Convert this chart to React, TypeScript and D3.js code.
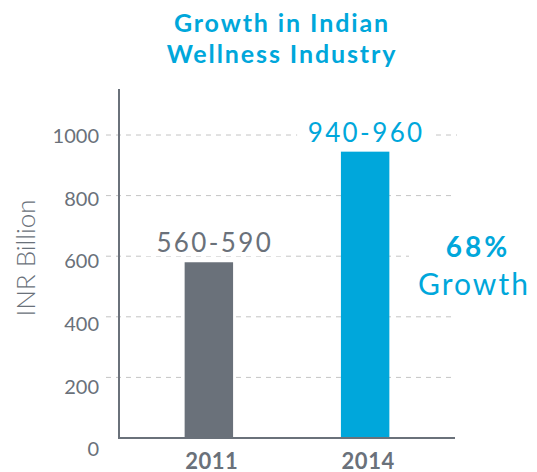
import React from "react";
import * as d3 from "d3";

const titleLines = ["Growth in Indian", "Wellness Industry"];
const years = ["2011", "2014"];
const values = [580, 945];
const valueLabels = ["560-590", "940-960"];
const yTicks = [0, 200, 400, 600, 800, 1000];
const yAxisTitle = "INR Billion";
const growthLines = ["68%", "Growth"];

const GRAY = "#6a717a";
const BLUE = "#00a7db";
const GRID = "#c4c4c4";
const FONT = "Lato, 'Open Sans', sans-serif";

export default function App() {
  const W = 537;
  const H = 472;
  const axisX = 119;
  const axisRight = 455;
  const y = d3.scaleLinear().domain([0, 1000]).range([438, 135]);
  const yLab = d3.scaleLinear().domain([0, 1000]).range([449, 136]);
  const x = d3
    .scaleBand<string>()
    .domain(years)
    .range([axisX, axisRight])
    .paddingInner(0.69)
    .paddingOuter(0.42);
  const colors = [GRAY, BLUE];

  return (
    <svg
      width={W}
      height={H}
      style={{ position: "absolute", left: 0, top: 0, background: "#fff" }}
      fontFamily={FONT}
    >
      {titleLines.map((t, i) => (
        <text
          key={t}
          x={282}
          y={32 + i * 31}
          textAnchor="middle"
          fill={BLUE}
          fontSize={25}
          fontWeight={700}
          letterSpacing={1.9}
        >
          {t}
        </text>
      ))}

      {/* gridlines */}
      {yTicks
        .filter((t) => t > 0)
        .map((t) => (
          <line
            key={t}
            x1={106}
            x2={t === 1000 ? 457 : 455}
            y1={y(t)}
            y2={y(t)}
            stroke={GRID}
            strokeWidth={1}
            strokeDasharray="5,5"
          />
        ))}

      {/* tick labels */}
      {yTicks.map((t) => (
        <text
          key={t}
          x={99}
          y={yLab(t)}
          dy="0.36em"
          textAnchor="end"
          fill={GRAY}
          fontSize={20}
          fontWeight={400}
        >
          {t}
        </text>
      ))}

      <text
        transform={`translate(35,258) rotate(-90)`}
        textAnchor="middle"
        fill={GRAY}
        fontSize={26}
        fontWeight={300}
      >
        {yAxisTitle}
      </text>

      {/* bars */}
      {years.map((yr, i) => (
        <rect
          key={yr}
          x={x(yr)}
          y={y(values[i])}
          width={x.bandwidth()}
          height={y(0) - y(values[i])}
          fill={colors[i]}
        />
      ))}

      {/* value labels with white backing */}
      {years.map((yr, i) => {
        const cx = (x(yr) as number) + x.bandwidth() / 2 + (i === 0 ? 5 : 0);
        const by = y(values[i]) - 10;
        return (
          <g key={yr}>
            <rect x={cx - 68} y={by - 26} width={136} height={30} fill="#fff" />
            <text
              x={cx + 1}
              y={by}
              textAnchor="middle"
              fill={colors[i]}
              fontSize={26}
              fontWeight={400}
              letterSpacing={2.4}
            >
              {valueLabels[i]}
            </text>
          </g>
        );
      })}

      {/* axes */}
      <line x1={axisX} x2={axisX} y1={89} y2={439} stroke={GRAY} strokeWidth={2} />
      <line x1={axisX - 1} x2={axisRight} y1={438} y2={438} stroke={GRAY} strokeWidth={2} />

      {years.map((yr) => (
        <text
          key={yr}
          x={(x(yr) as number) + x.bandwidth() / 2 + 3}
          y={469}
          textAnchor="middle"
          fill={GRAY}
          fontSize={22}
          fontWeight={700}
          letterSpacing={0.5}
        >
          {yr}
        </text>
      ))}

      {/* growth annotation */}
      <rect x={409} y={228} width={128} height={75} fill="#fff" />
      <text x={478} y={257} textAnchor="middle" fill={BLUE} fontSize={28} fontWeight={700} letterSpacing={3}>
        {growthLines[0]}
      </text>
      <text x={474} y={295} textAnchor="middle" fill={BLUE} fontSize={30} fontWeight={400} letterSpacing={2}>
        {growthLines[1]}
      </text>
    </svg>
  );
}
